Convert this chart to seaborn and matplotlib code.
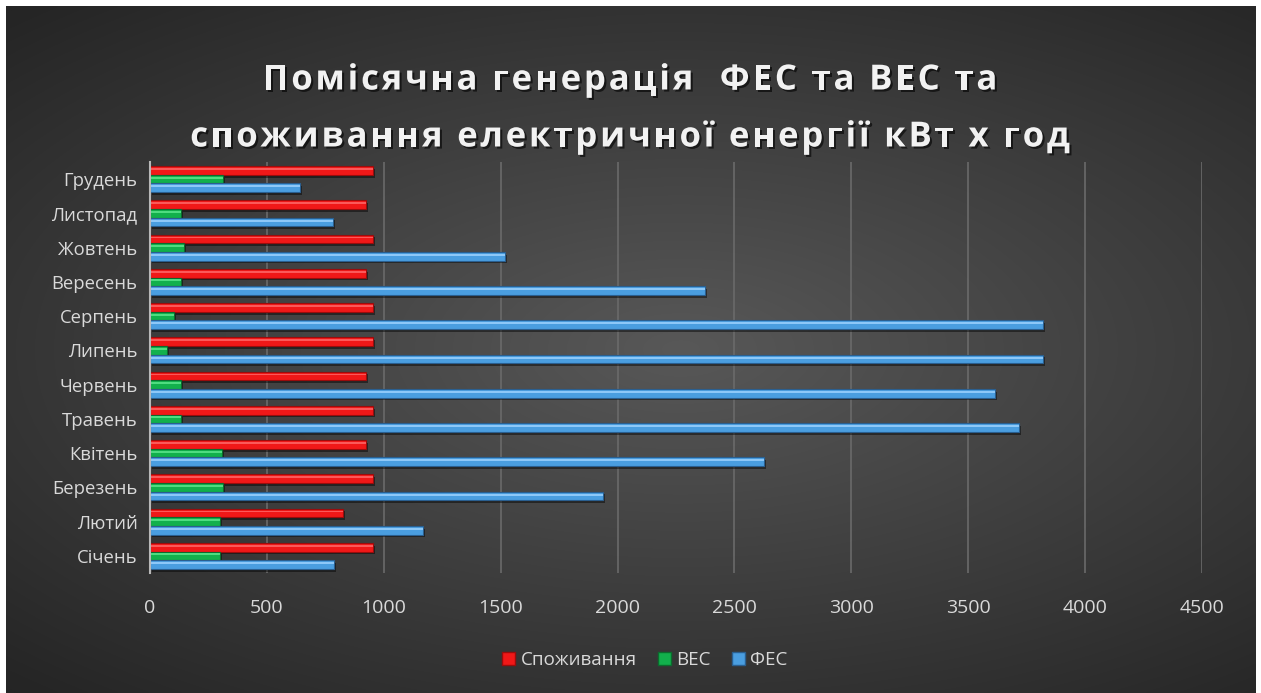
import numpy as np
import pandas as pd
import matplotlib
matplotlib.use("Agg")
import matplotlib.pyplot as plt
import matplotlib.patheffects as pe
from matplotlib.patches import Rectangle, Patch
import seaborn as sns

# Monthly values, kWh (top to bottom on the chart)
months = ["Грудень", "Листопад", "Жовтень", "Вересень", "Серпень", "Липень",
          "Червень", "Травень", "Квітень", "Березень", "Лютий", "Січень"]
consumption = [954, 924, 954, 924, 954, 954, 924, 954, 924, 954, 826, 954]
wind = [312, 133, 145, 133, 103, 73, 133, 133, 308, 312, 300, 300]
solar = [642, 783, 1519, 2375, 3821, 3821, 3616, 3718, 2627, 1938, 1168, 787]

series_names = ["Споживання", "ВЕС", "ФЕС"]
series_colors = ["#f01818", "#12b04c", "#4a9ee0"]
edge_colors = ["#9a0c0c", "#0b6b2d", "#2a5f90"]
light_colors = ["#ff6a6a", "#5ee88e", "#9fd3ff"]

x_ticks = list(range(0, 4501, 500))
title_lines = ["Помісячна генерація  ФЕС та ВЕС та",
               "споживання електричної енергії кВт х год"]

df = pd.DataFrame({
    "month": months * 3,
    "series": [series_names[0]] * 12 + [series_names[1]] * 12 + [series_names[2]] * 12,
    "value": consumption + wind + solar,
})

sns.set_theme(style="dark")
plt.rcParams["font.family"] = ["Open Sans", "DejaVu Sans"]

W, H = 1261, 693
fig = plt.figure(figsize=(W / 100, H / 100), dpi=100)
fig.patch.set_facecolor("white")

# dark radial-gradient chart area
bg = fig.add_axes([6 / W, 0, (1256 - 6) / W, (H - 6) / H])
bg.set_axis_off()
gx, gy = np.meshgrid(np.linspace(-1, 1, 600), np.linspace(-1, 1, 340))
r = np.sqrt(((gx - 0.08) / 1.15) ** 2 + (gy / 1.0) ** 2)
r = np.clip(r / 1.35, 0, 1)
c0 = np.array([0x58, 0x58, 0x58]) / 255
c1 = np.array([0x25, 0x25, 0x25]) / 255
img = c0[None, None, :] * (1 - r[..., None]) + c1[None, None, :] * r[..., None]
bg.imshow(img, aspect="auto", extent=[0, 1, 0, 1], interpolation="bicubic")
bg.set_xlim(0, 1)
bg.set_ylim(0, 1)

left, right = 150 / W, 1202 / W
top, bottom = 1 - 162 / H, 1 - 573 / H
ax = fig.add_axes([left, bottom, right - left, top - bottom])
ax.patch.set_alpha(0)

sns.barplot(data=df, x="value", y="month", hue="series", orient="h",
            order=months, hue_order=series_names, palette=series_colors,
            width=0.76, legend=False, ax=ax, saturation=1)

# bevel look: darker outline, light stripe along each bar, soft shadow
n = len(months)
for i, p in enumerate(list(ax.patches)):
    k = i // n
    p.set_edgecolor(edge_colors[k])
    p.set_linewidth(0.8)
    p.set_path_effects([pe.withSimplePatchShadow(offset=(1.5, -2), shadow_rgbFace="black", alpha=0.45)])
    x0, y0 = p.get_x(), p.get_y()
    w, h = p.get_width(), p.get_height()
    ax.add_patch(Rectangle((x0, y0 + h * 0.22), w, h * 0.22,
                           facecolor=light_colors[k], edgecolor="none", alpha=0.8, zorder=p.get_zorder() + 0.1))

ax.set_xlim(0, 4500)
ax.set_xticks(x_ticks)
ax.set_xticklabels([str(t) for t in x_ticks])
ax.set_xlabel("")
ax.set_ylabel("")
ax.grid(axis="x", color="#6a6a6a", linewidth=1.2)
ax.grid(axis="y", visible=False)
ax.set_axisbelow(True)
for s in ["top", "right", "bottom"]:
    ax.spines[s].set_visible(False)
ax.spines["left"].set_color("#b8b8b8")
ax.spines["left"].set_linewidth(1.5)
ax.tick_params(axis="x", colors="#d9d9d9", labelsize=14, pad=19, length=0)
ax.tick_params(axis="y", colors="#d9d9d9", labelsize=13.3, pad=9, length=0)

# letter-spaced bold title, drawn character by character
renderer = fig.canvas.get_renderer()
title_kw = dict(fontsize=25, fontweight="bold", color="#f2f2f2",
                path_effects=[pe.withSimplePatchShadow(offset=(1.5, -1.5), shadow_rgbFace="black", alpha=0.6)])
tracking = 2.8  # extra pixels between letters


def char_width(ch):
    if ch == " ":
        a = fig.text(0, 0, "x x", **title_kw)
        b = fig.text(0, 0, "xx", **title_kw)
        wd = a.get_window_extent(renderer).width - b.get_window_extent(renderer).width
        a.remove()
        b.remove()
        return wd
    t = fig.text(0, 0, ch, **title_kw)
    wd = t.get_window_extent(renderer).width
    t.remove()
    return wd


for line, yc in zip(title_lines, [76, 133]):
    widths = [char_width(c) for c in line]
    total = sum(widths) + tracking * (len(line) - 1)
    xpos = 630 - total / 2
    for c, wd in zip(line, widths):
        if c != " ":
            fig.text(xpos / W, 1 - yc / H, c, ha="left", va="center_baseline", **title_kw)
        xpos += wd + tracking

handles = [Patch(facecolor=series_colors[k], edgecolor=edge_colors[k], label=series_names[k])
           for k in range(3)]
leg = fig.legend(handles=handles, loc="center", bbox_to_anchor=(645 / W, 1 - 660 / H),
                 ncol=3, frameon=False, fontsize=13.5, handlelength=0.7, handleheight=0.7,
                 handletextpad=0.3, columnspacing=1.1)
for t in leg.get_texts():
    t.set_color("#d9d9d9")

fig.savefig("out.png", dpi=100)
